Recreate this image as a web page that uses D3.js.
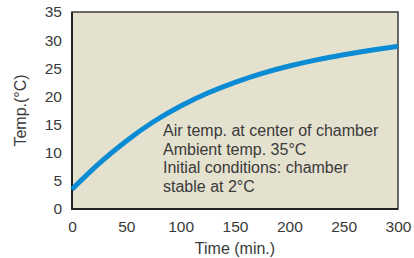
<!DOCTYPE html>
<html>
<head>
<meta charset="utf-8">
<script src="https://cdn.jsdelivr.net/npm/d3@7"></script>
<style>
    body { margin: 0; background: #fff; }
    text { font-family: "Liberation Sans", Arial, sans-serif; fill: #3a3a3a; }
</style>
</head>
<body>
<svg id="chart"></svg>
<script>
// values
const timeMin = [0, 25, 50, 75, 100, 125, 150, 175, 200, 225, 250, 275, 300];
const tempC = [3.5, 8.1, 12.1, 15.5, 18.3, 20.6, 22.5, 24.1, 25.4, 26.5, 27.4, 28.2, 28.9];
const xTicks = [0, 50, 100, 150, 200, 250, 300];
const yTicks = [0, 5, 10, 15, 20, 25, 30, 35];
const notes = [
    'Air temp. at center of chamber',
    'Ambient temp. 35°C',
    'Initial conditions: chamber',
    'stable at 2°C'
];

const width = 414, height = 258;
const margin = { top: 12, right: 16, bottom: 49, left: 72 };
const innerW = width - margin.left - margin.right;
const innerH = height - margin.top - margin.bottom;

const svg = d3.select('#chart')
    .attr('width', width)
    .attr('height', height);

const bounds = svg.append('g')
    .attr('transform', `translate(${margin.left}, ${margin.top})`);

const xScale = d3.scaleLinear().domain([0, 300]).range([0, innerW]);
const yScale = d3.scaleLinear().domain([0, 35]).range([innerH, 0]);

// plot background + frame
bounds.append('rect')
    .attr('width', innerW)
    .attr('height', innerH)
    .attr('fill', '#e4e1cf')
    .attr('stroke', '#3a3a3a')
    .attr('stroke-width', 1.5);

// axes (labels only, no tick marks)
const xAxisG = bounds.append('g')
    .attr('transform', `translate(0, ${innerH})`)
    .call(d3.axisBottom(xScale).tickValues(xTicks).tickSize(0).tickPadding(12));

const yAxisG = bounds.append('g')
    .call(d3.axisLeft(yScale).tickValues(yTicks).tickSize(0).tickPadding(10));

[xAxisG, yAxisG].forEach(g => {
    g.select('.domain').remove();
    g.selectAll('text')
        .style('font-size', '15.5px')
        .style('font-family', '"Liberation Sans", Arial, sans-serif')
        .attr('fill', '#3a3a3a');
});

// heavier left and bottom axis lines
bounds.append('line')
    .attr('x1', 0).attr('x2', 0)
    .attr('y1', 0).attr('y2', innerH + 1)
    .attr('stroke', '#222').attr('stroke-width', 2);
bounds.append('line')
    .attr('x1', -1).attr('x2', innerW)
    .attr('y1', innerH).attr('y2', innerH)
    .attr('stroke', '#222').attr('stroke-width', 2);

// the curve
const line = d3.line()
    .x((d, i) => xScale(timeMin[i]))
    .y(d => yScale(d))
    .curve(d3.curveNatural);

bounds.append('path')
    .datum(tempC)
    .attr('d', line)
    .attr('fill', 'none')
    .attr('stroke', '#0a8bd3')
    .attr('stroke-width', 5);

// annotation text
bounds.append('g')
    .selectAll('text')
    .data(notes)
    .join('text')
    .attr('x', 91)
    .attr('y', (d, i) => 124 + i * 18.7)
    .style('font-size', '16px')
    .text(d => d);

// axis titles
svg.append('text')
    .attr('x', margin.left + innerW / 2)
    .attr('y', 254)
    .attr('text-anchor', 'middle')
    .style('font-size', '16px')
    .text('Time (min.)');

svg.append('text')
    .attr('transform', `translate(26, ${margin.top + innerH / 2}) rotate(-90)`)
    .attr('text-anchor', 'middle')
    .style('font-size', '16px')
    .text('Temp.(°C)');
</script>
</body>
</html>
